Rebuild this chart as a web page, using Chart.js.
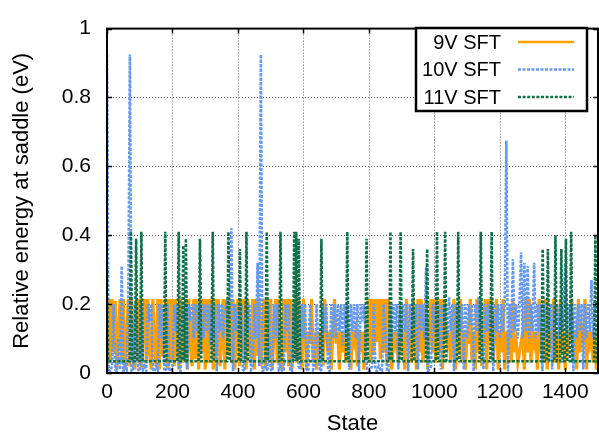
<!DOCTYPE html>
<html>
<head>
<meta charset="utf-8">
<script src="https://cdn.jsdelivr.net/npm/chart.js@4/dist/chart.umd.min.js"></script>
<style>
html,body{margin:0;padding:0;background:#fff;}
canvas{display:block;}
</style>
</head>
<body>
<canvas id="c" width="599" height="435"></canvas>
<script>
const seriesLabels = ["9V SFT", "10V SFT", "11V SFT"];
const sampleStep = 5; // states between samples of the 9V / 10V series

const sft9V = [
 0.01,0.215,0.03,0.215,0.06,0.21,0.01,0.12,0.215,0.03,0.215,0.01,0.09,0.215,0.02,0.215,0.06,0.01,0.215,0.04,
 0.215,0.01,0.12,0.215,0.03,0.215,0.06,0.01,0.215,0.09,0.02,0.215,0.01,0.215,0.05,0.12,0.215,0.01,0.215,0.03,
 0.215,0.02,0.215,0.06,0.01,0.215,0.03,0.12,0.215,0.01,0.215,0.09,0.02,0.215,0.04,0.215,0.01,0.215,0.06,0.215,
 0.01,0.215,0.03,0.215,0.12,0.01,0.215,0.05,0.215,0.02,0.09,0.215,0.01,0.215,0.06,0.215,0.03,0.215,0.01,0.12,
 0.215,0.02,0.215,0.06,0.215,0.01,0.215,0.09,0.03,0.215,0.01,0.215,0.05,0.215,0.02,0.12,0.215,0.01,0.215,0.04,
 0.215,0.01,0.12,0.215,0.03,0.215,0.09,0.01,0.215,0.06,0.215,0.02,0.215,0.01,0.12,0.215,0.03,0.215,0.09,0.01,
 0.215,0.12,0.01,0.12,0.085,0.215,0.03,0.12,0.01,0.12,0.085,0.12,0.02,0.215,0.12,0.06,0.12,0.01,0.12,0.215,
 0.085,0.12,0.01,0.12,0.06,0.12,0.03,0.085,0.12,0.01,0.12,0.09,0.12,0.02,0.12,0.06,0.12,0.01,0.12,0.085,
 0.215,0.03,0.215,0.06,0.215,0.09,0.215,0.04,0.215,0.06,0.215,0.03,0.215,0.12,0.01,0.12,0.085,0.12,0.03,0.12,
 0.06,0.12,0.01,0.215,0.085,0.12,0.03,0.215,0.12,0.01,0.215,0.06,0.215,0.03,0.12,0.215,0.01,0.12,0.215,0.06,
 0.215,0.03,0.215,0.06,0.215,0.01,0.215,0.12,0.085,0.12,0.03,0.12,0.215,0.01,0.12,0.06,0.215,0.03,0.12,0.01,
 0.12,0.085,0.215,0.03,0.12,0.01,0.215,0.06,0.215,0.02,0.12,0.215,0.01,0.215,0.09,0.215,0.03,0.12,0.215,0.01,
 0.12,0.06,0.215,0.01,0.12,0.085,0.12,0.03,0.215,0.06,0.09,0.03,0.06,0.09,0.12,0.01,0.215,0.06,0.215,0.03,
 0.12,0.085,0.12,0.01,0.215,0.06,0.12,0.03,0.215,0.01,0.12,0.09,0.12,0.215,0.03,0.12,0.01,0.215,0.06,0.12,
 0.01,0.12,0.085,0.12,0.215,0.03,0.12,0.01,0.215,0.06,0.12,0.09,0.215,0.01,0.12,0.085,0.12,0.03,0.12,0.01,
 0.12
];

const sft10V = [
 0.925,0.01,0.005,0.02,0.2,0.01,0.005,0.1,0.01,0.31,0.005,0.02,0.01,0.2,0.925,0.005,0.01,0.2,0.12,0.01,
 0.005,0.2,0.01,0.02,0.005,0.2,0.15,0.2,0.01,0.005,0.02,0.01,0.2,0.1,0.2,0.005,0.01,0.2,0.01,0.005,
 0.02,0.2,0.12,0.2,0.01,0.005,0.2,0.1,0.2,0.01,0.2,0.15,0.2,0.1,0.2,0.12,0.2,0.06,0.2,0.1,
 0.2,0.12,0.2,0.08,0.2,0.1,0.2,0.005,0.2,0.12,0.2,0.1,0.18,0.2,0.1,0.2,0.42,0.005,0.2,0.12,
 0.2,0.1,0.2,0.01,0.005,0.2,0.12,0.2,0.01,0.02,0.2,0.1,0.32,0.02,0.925,0.005,0.01,0.02,0.005,0.2,
 0.01,0.005,0.2,0.1,0.2,0.01,0.02,0.005,0.01,0.2,0.12,0.2,0.01,0.005,0.2,0.1,0.2,0.02,0.01,0.2,
 0.1,0.2,0.01,0.005,0.2,0.12,0.01,0.02,0.2,0.1,0.005,0.01,0.2,0.12,0.2,0.01,0.005,0.2,0.1,0.2,
 0.1,0.2,0.12,0.2,0.08,0.2,0.1,0.2,0.01,0.2,0.12,0.2,0.1,0.2,0.005,0.2,0.15,0.2,0.1,0.01,
 0.005,0.01,0.02,0.2,0.01,0.005,0.02,0.01,0.005,0.2,0.12,0.01,0.005,0.2,0.1,0.2,0.12,0.2,0.01,0.2,
 0.1,0.2,0.12,0.2,0.005,0.2,0.1,0.2,0.14,0.2,0.01,0.2,0.12,0.2,0.1,0.31,0.005,0.01,0.02,0.2,
 0.12,0.2,0.1,0.2,0.01,0.2,0.14,0.2,0.1,0.22,0.12,0.2,0.005,0.2,0.1,0.2,0.12,0.2,0.01,0.2,
 0.1,0.2,0.14,0.2,0.005,0.2,0.12,0.22,0.1,0.2,0.01,0.2,0.12,0.2,0.1,0.2,0.005,0.2,0.12,0.2,
 0.1,0.2,0.12,0.2,0.674,0.005,0.2,0.1,0.33,0.12,0.2,0.1,0.2,0.35,0.1,0.32,0.12,0.31,0.1,0.2,
 0.12,0.32,0.1,0.2,0.12,0.2,0.005,0.2,0.1,0.2,0.12,0.2,0.01,0.2,0.14,0.2,0.1,0.2,0.12,0.2,
 0.32,0.1,0.2,0.12,0.2,0.005,0.2,0.1,0.2,0.12,0.2,0.01,0.2,0.1,0.2,0.12,0.27,0.1,0.2,0.12,
 0.1
];

// 11V series: flat baseline with isolated spikes (state, energy)
const sft11VStates = [
 0,3,
 69,73,77, 85,89,93, 101,105,109, 174,178,182, 215,219,223, 229,233,236, 238,241,245,
 280,284,288, 319,323,327, 367,371,375, 402,406,410, 422,426,430, 484,488,492,
 526,530,534, 568,572,575, 575,578,581, 582,586,590, 651,655,659, 730,734,738,
 789,793,797, 862,866,870, 893,897,901, 931,935,939, 974,978,982, 1004,1008,1012,
 1029,1033,1037, 1069,1073,1077, 1138,1142,1146, 1171,1175,1179, 1327,1331,1335,
 1343,1347,1351, 1366,1370,1374, 1384,1388,1392, 1398,1402,1406, 1414,1418,1422,
 1488,1492,1496, 1500
];
const sft11VValues = [
 0.30,0.034,
 0.034,0.41,0.034, 0.034,0.39,0.034, 0.034,0.41,0.034, 0.034,0.41,0.034, 0.034,0.41,0.034, 0.034,0.37,0.034, 0.034,0.39,0.034,
 0.034,0.39,0.034, 0.034,0.41,0.034, 0.034,0.41,0.034, 0.034,0.36,0.034, 0.034,0.41,0.034, 0.034,0.41,0.034,
 0.034,0.41,0.034, 0.034,0.41,0.034, 0.034,0.41,0.034, 0.034,0.39,0.034, 0.034,0.39,0.034, 0.034,0.41,0.034,
 0.034,0.39,0.034, 0.034,0.41,0.034, 0.034,0.41,0.034, 0.034,0.36,0.034, 0.034,0.36,0.034, 0.034,0.41,0.034,
 0.034,0.41,0.034, 0.034,0.41,0.034, 0.034,0.41,0.034, 0.034,0.41,0.034, 0.034,0.36,0.034,
 0.034,0.36,0.034, 0.034,0.40,0.034, 0.034,0.36,0.034, 0.034,0.39,0.034, 0.034,0.41,0.034,
 0.034,0.40,0.034, 0.034
];

const xTicks = [0, 200, 400, 600, 800, 1000, 1200, 1400];
const yTicks = [0, 0.2, 0.4, 0.6, 0.8, 1];

// ---- build datasets ----
const toPoints = vals => vals.map((v, i) => ({x: i * sampleStep, y: v}));
const pts11 = sft11VStates.map((s, i) => ({x: s, y: sft11VValues[i]}));

const FONT = "'Liberation Sans', Arial, Helvetica, sans-serif";

const frame = {
  id: 'frame',
  beforeDatasetsDraw(chart) {
    const {ctx, chartArea: a, scales: {x, y}} = chart;
    ctx.save();
    ctx.strokeStyle = 'rgba(0,0,0,0.6)';
    ctx.lineWidth = 1;
    ctx.setLineDash([1, 2]);
    xTicks.forEach(t => {
      if (t <= x.min || t >= x.max) return;
      const px = Math.round(x.getPixelForValue(t)) + 0.5;
      ctx.beginPath(); ctx.moveTo(px, a.top); ctx.lineTo(px, a.bottom); ctx.stroke();
    });
    yTicks.forEach(t => {
      if (t <= y.min || t >= y.max) return;
      const py = Math.round(y.getPixelForValue(t)) + 0.5;
      ctx.beginPath(); ctx.moveTo(a.left, py); ctx.lineTo(a.right, py); ctx.stroke();
    });
    ctx.restore();
  },
  afterDatasetsDraw(chart) {
    const {ctx, chartArea: a, scales: {x, y}} = chart;
    ctx.save();
    ctx.setLineDash([]);
    ctx.strokeStyle = '#000';
    ctx.lineWidth = 1.5;
    xTicks.forEach(t => {
      const px = Math.round(x.getPixelForValue(t)) + 0.5;
      ctx.beginPath(); ctx.moveTo(px, a.bottom); ctx.lineTo(px, a.bottom - 5); ctx.stroke();
      ctx.beginPath(); ctx.moveTo(px, a.top); ctx.lineTo(px, a.top + 5); ctx.stroke();
    });
    yTicks.forEach(t => {
      const py = Math.round(y.getPixelForValue(t)) + 0.5;
      ctx.beginPath(); ctx.moveTo(a.left, py); ctx.lineTo(a.left + 5, py); ctx.stroke();
      ctx.beginPath(); ctx.moveTo(a.right, py); ctx.lineTo(a.right - 5, py); ctx.stroke();
    });
    ctx.lineWidth = 2;
    ctx.strokeRect(a.left, a.top, a.right - a.left, a.bottom - a.top);

    // legend box (gnuplot style: text right-aligned, sample on the right)
    const bx = 416, by = 28, bw = 171, bh = 83;
    ctx.fillStyle = '#fff';
    ctx.fillRect(bx, by, bw, bh);
    ctx.lineWidth = 2.5;
    ctx.strokeStyle = '#000';
    ctx.strokeRect(bx, by, bw, bh);
    ctx.font = '20px ' + FONT;
    ctx.textAlign = 'right';
    ctx.textBaseline = 'middle';
    const rows = [42, 69.5, 97];
    chart.data.datasets.forEach((ds, i) => {
      const ry = rows[i];
      ctx.fillStyle = '#000';
      ctx.fillText(ds.label, 501, ry + 1);
      ctx.strokeStyle = ds.borderColor;
      ctx.lineWidth = ds.borderWidth > 2.5 ? 2.6 : 2.2;
      ctx.setLineDash(ds.borderDash || []);
      ctx.beginPath(); ctx.moveTo(518, ry); ctx.lineTo(574, ry); ctx.stroke();
    });
    ctx.restore();
  }
};

new Chart(document.getElementById('c'), {
  type: 'line',
  data: {
    datasets: [
      {label: seriesLabels[0], data: toPoints(sft9V), borderColor: '#ffa000',
       borderWidth: 3.2, pointRadius: 0, tension: 0, order: 3},
      {label: seriesLabels[1], data: toPoints(sft10V), borderColor: '#6699f0',
       borderWidth: 2.6, borderDash: [3, 1.5], pointRadius: 0, tension: 0, order: 2},
      {label: seriesLabels[2], data: pts11, borderColor: '#12704a',
       borderWidth: 2.6, borderDash: [3, 1.6], pointRadius: 0, tension: 0, order: 1}
    ]
  },
  options: {
    responsive: false,
    devicePixelRatio: 1,
    animation: false,
    layout: {padding: {top: 23, right: 1, left: 0, bottom: 0}},
    plugins: {legend: {display: false}, tooltip: {enabled: false}},
    scales: {
      x: {
        type: 'linear', min: 0, max: 1500,
        afterBuildTicks: s => { s.ticks = xTicks.map(v => ({value: v})); },
        afterFit: s => { s.height = 62; },
        grid: {display: false, drawTicks: false},
        border: {display: false},
        ticks: {color: '#000', font: {family: FONT, size: 21}, padding: 7,
                maxRotation: 0, autoSkip: false, callback: v => String(v)},
        title: {display: true, text: 'State', color: '#000',
                font: {family: FONT, size: 22, lineHeight: 1}, padding: {top: 0, bottom: 0}}
      },
      y: {
        type: 'linear', min: 0, max: 1,
        afterBuildTicks: s => { s.ticks = yTicks.map(v => ({value: v})); },
        afterFit: s => { s.width = 107; },
        grid: {display: false, drawTicks: false},
        border: {display: false},
        ticks: {color: '#000', font: {family: FONT, size: 21}, padding: 16,
                callback: v => String(v)},
        title: {display: true, text: 'Relative energy at saddle (eV)', color: '#000',
                font: {family: FONT, size: 22, lineHeight: 1}, padding: {top: 11, bottom: 0}}
      }
    }
  },
  plugins: [frame]
});
</script>
</body>
</html>
